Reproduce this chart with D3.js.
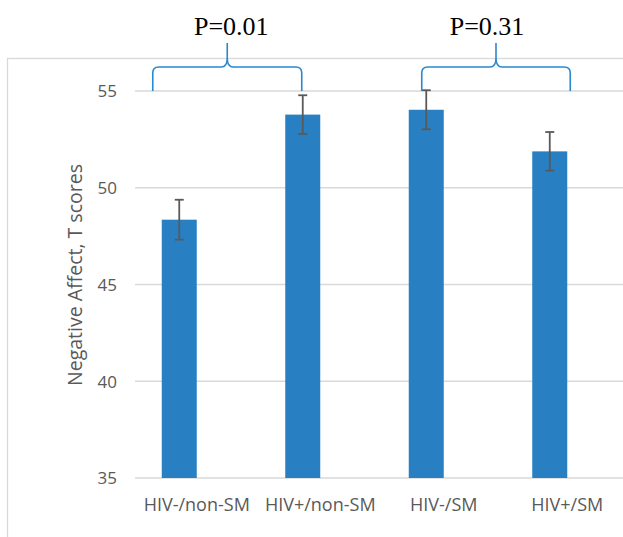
<!DOCTYPE html>
<html>
<head>
<meta charset="utf-8">
<script src="https://cdn.jsdelivr.net/npm/d3@7"></script>
<style>
  html, body { margin: 0; padding: 0; background: #ffffff; }
  svg { display: block; }
</style>
</head>
<body>
<svg id="chart" width="623" height="537"></svg>
<script>
// ---- data ----
const categories = ["HIV-/non-SM", "HIV+/non-SM", "HIV-/SM", "HIV+/SM"];
const series = ["Mean", "Empty"];
const meanValues = [48.35, 53.78, 54.03, 51.88];
const errorValues = [1.03, 1.0, 1.01, 1.0];
const yTicks = [35, 40, 45, 50, 55];
const yTitle = "Negative Affect, T scores";
const annotationLabels = ["P=0.01", "P=0.31"];
const annotationFrom = [0, 2];
const annotationTo = [1, 3];

// ---- layout ----
const W = 623, H = 537;
const plotLeft = 135, bandStep = 123.5;
const yTop = 91, yBottom = 478;
const barColor = "#2880c3";
const gridColor = "#d9d9d9";
const textColor = "#595959";
const braceColor = "#2a88d0";
const braceStartOffset = [-26.5, -4.5];
const braceEndOffset = [-1, 20.5];
const labelOffset = [4, -9];

const svg = d3.select("#chart");

// chart area border
svg.append("rect")
  .attr("x", 7.5).attr("y", 58.5)
  .attr("width", 800).attr("height", 600)
  .attr("fill", "none").attr("stroke", gridColor).attr("stroke-width", 1.3);

const x0 = d3.scaleBand()
  .domain(categories)
  .range([plotLeft, plotLeft + bandStep * categories.length])
  .paddingInner(0).paddingOuter(0);

const x1 = d3.scaleBand()
  .domain(series)
  .range([0, x0.bandwidth()])
  .paddingInner(0).paddingOuter(0.764);

const y = d3.scaleLinear().domain([35, 55]).range([yBottom, yTop]);

// gridlines
svg.append("g").selectAll("line").data(yTicks).join("line")
  .attr("x1", plotLeft).attr("x2", plotLeft + bandStep * categories.length)
  .attr("y1", d => y(d)).attr("y2", d => y(d))
  .attr("stroke", gridColor).attr("stroke-width", 1.3);

// y axis labels
const yAxis = d3.axisLeft(y).tickValues(yTicks).tickSize(0).tickPadding(0);
const yg = svg.append("g").attr("transform", `translate(${117},0)`).call(yAxis);
yg.select(".domain").remove();
yg.selectAll("text")
  .attr("fill", textColor)
  .style("font-family", "'Open Sans', sans-serif")
  .style("font-size", "17px")
  .attr("dy", "0.35em");

// y title
svg.append("text")
  .attr("transform", `translate(${82},${275}) rotate(-90)`)
  .attr("text-anchor", "middle")
  .attr("fill", textColor)
  .style("font-family", "'Open Sans', sans-serif")
  .style("font-size", "19.5px")
  .text(yTitle);

// x axis labels
const xAxis = d3.axisBottom(x0).tickSize(0).tickPadding(0);
const xg = svg.append("g").attr("transform", `translate(0,${505})`).call(xAxis);
xg.select(".domain").remove();
xg.selectAll("text")
  .attr("fill", textColor)
  .attr("dy", "0.35em")
  .style("font-family", "'Open Sans', sans-serif")
  .style("font-size", "18px");

// bars
const barX = (i) => x0(categories[i]) + x1("Mean");
svg.append("g").selectAll("rect").data(meanValues).join("rect")
  .attr("x", (d, i) => barX(i))
  .attr("width", x1.bandwidth())
  .attr("y", d => y(d))
  .attr("height", d => y(35) - y(d))
  .attr("fill", barColor);

// error bars
const eg = svg.append("g").attr("stroke", textColor).attr("stroke-width", 1.8);
meanValues.forEach((d, i) => {
  const cx = barX(i) + x1.bandwidth() / 2;
  const hi = y(d + errorValues[i]), lo = y(d - errorValues[i]);
  eg.append("line").attr("x1", cx).attr("x2", cx).attr("y1", hi).attr("y2", lo);
  eg.append("line").attr("x1", cx - 4.5).attr("x2", cx + 4.5).attr("y1", hi).attr("y2", hi);
  eg.append("line").attr("x1", cx - 4.5).attr("x2", cx + 4.5).attr("y1", lo).attr("y2", lo);
});

// braces with p-values
const barCenter = (i) => barX(i) + x1.bandwidth() / 2;
annotationLabels.forEach((label, k) => {
  const xa = barCenter(annotationFrom[k]) + braceStartOffset[k];
  const xb = barCenter(annotationTo[k]) + braceEndOffset[k];
  const xm = (xa + xb) / 2;
  const yb = y(55), yh = yb - 24, yp = yb - 48;
  const r = 6;
  const p = d3.path();
  p.moveTo(xa, yb);
  p.lineTo(xa, yh + r);
  p.quadraticCurveTo(xa, yh, xa + r, yh);
  p.lineTo(xm - r, yh);
  p.quadraticCurveTo(xm, yh, xm, yh - 9);
  p.lineTo(xm, yp);
  p.moveTo(xm, yh - 9);
  p.quadraticCurveTo(xm, yh, xm + r, yh);
  p.lineTo(xb - r, yh);
  p.quadraticCurveTo(xb, yh, xb, yh + r);
  p.lineTo(xb, yb);
  svg.append("path").attr("d", p.toString())
    .attr("fill", "none").attr("stroke", braceColor).attr("stroke-width", 1.6);
  svg.append("text")
    .attr("x", xm + labelOffset[k]).attr("y", 35)
    .attr("text-anchor", "middle")
    .attr("fill", "#000")
    .style("font-family", "'Liberation Serif', 'Times New Roman', serif")
    .style("font-size", "26px")
    .text(label);
});
</script>
</body>
</html>
